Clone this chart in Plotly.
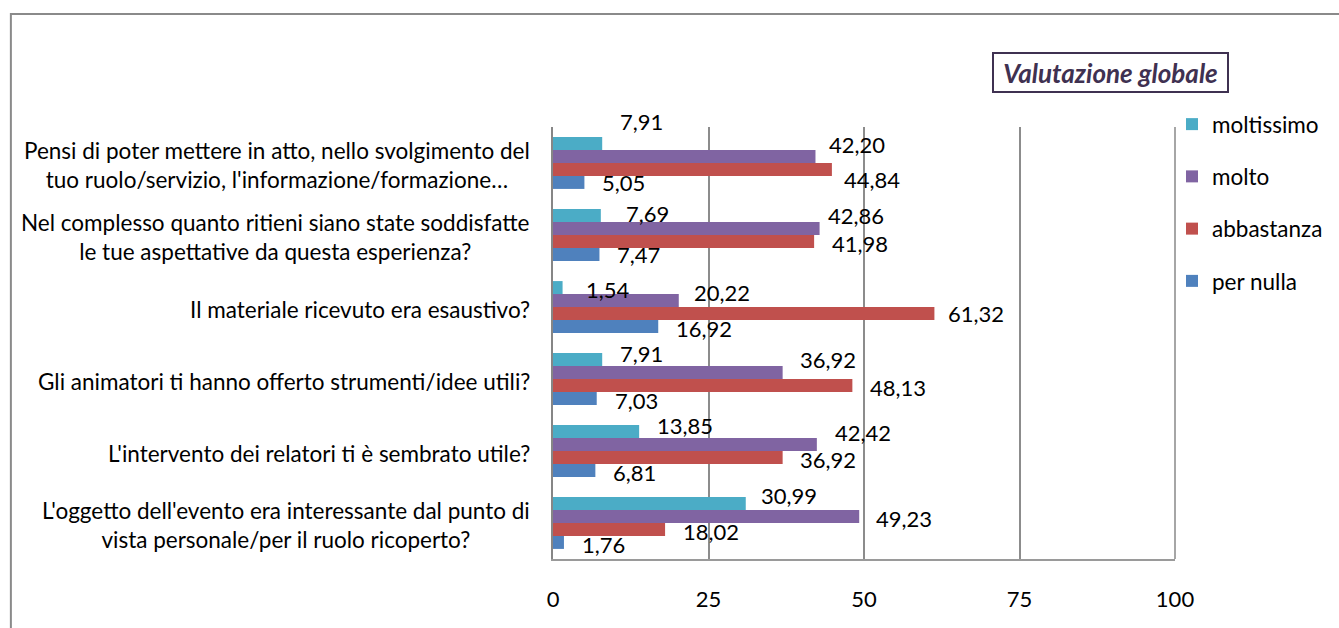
import plotly.graph_objects as go

# Questions, listed bottom to top as they appear on the category axis
categories = [
    "L'oggetto dell'evento era interessante dal punto di<br>vista personale/per il ruolo ricoperto?",
    "L'intervento dei relatori ti è sembrato utile?",
    "Gli animatori ti hanno offerto strumenti/idee utili?",
    "Il materiale ricevuto era esaustivo?",
    "Nel complesso quanto ritieni siano state soddisfatte<br>le tue aspettative da questa esperienza?",
    "Pensi di poter mettere in atto, nello svolgimento del<br>tuo ruolo/servizio, l'informazione/formazione…",
]

# Percentages per answer (same order as categories)
per_nulla = [1.76, 6.81, 7.03, 16.92, 7.47, 5.05]
abbastanza = [18.02, 36.92, 48.13, 61.32, 41.98, 44.84]
molto = [49.23, 42.42, 36.92, 20.22, 42.86, 42.20]
moltissimo = [30.99, 13.85, 7.91, 1.54, 7.69, 7.91]

series_names = ["per nulla", "abbastanza", "molto", "moltissimo"]
series_values = [per_nulla, abbastanza, molto, moltissimo]
series_colors = ["#4F81BD", "#C0504D", "#8064A2", "#4BACC6"]

# Hand-placed data label nudges: horizontal gap after the bar end, vertical shift (px)
label_gap = [
    [17, 17, 17, 17, 17, 17],
    [17, 16, 17, 13, 17, 11],
    [16, 17, 16, 14, 7, 13],
    [14, 17, 17, 22, 24, 17],
]
label_dy = [
    [-2, -2, -2, -2, 0, 0],
    [-2, -2, -2, 0, -2, -10],
    [-2, 12, 13, 8, 13, 12],
    [8, 6, 6, -2, 2, 22],
]

title_text = "Valutazione globale"
x_ticks = [0, 25, 50, 75, 100]

FONT = "Lato, Carlito, Calibri, sans-serif"
FS = 22.5
W, H = 1339, 628
L, R, T, B = 553, 1176, 127, 559  # plot area in pixels
BARGAP = 0.28

fig = go.Figure()
n = len(series_names)
for k, (name, vals, color) in enumerate(zip(series_names, series_values, series_colors)):
    fig.add_trace(go.Bar(
        x=vals, y=list(range(len(categories))), orientation="h", name=name,
        marker=dict(color=color, line=dict(width=0)), legendgroup=name,
        legendrank=n - k, hoverinfo="x+name",
    ))

# Data labels attached to each bar's value and slot
slot = (1 - BARGAP) / n
annotations = []
for k, vals in enumerate(series_values):
    off = (k - (n - 1) / 2) * slot
    for i, v in enumerate(vals):
        annotations.append(dict(
            x=v, y=i + off, xref="x", yref="y", text=f"{v:.2f}".replace(".", ","),
            showarrow=False, xanchor="left", yanchor="middle",
            xshift=label_gap[k][i], yshift=label_dy[k][i], borderpad=0,
            font=dict(family=FONT, size=22, color="#000000"),
        ))

# Category labels, centred lines right-aligned against the axis
for i, c in enumerate(categories):
    annotations.append(dict(
        x=0, y=i, xref="x", yref="y", text=c, showarrow=False,
        xanchor="right", yanchor="middle", align="center", xshift=-21, yshift=-2,
        font=dict(family=FONT, size=FS, color="#000000"),
    ))

pw, ph = R - L, B - T
def px_x(p):
    return (p - L) / pw
def px_y(p):
    return (B - p) / ph

annotations.append(dict(
    x=px_x(1111.5), y=px_y(72.5), xref="paper", yref="paper", text=f"<b><i>{title_text}</i></b>",
    showarrow=False, xanchor="center", yanchor="middle", width=233, height=37,
    bordercolor="#3F3151", borderwidth=2, borderpad=0, bgcolor="#FFFFFF",
    font=dict(family=FONT, size=26, color="#3F3151"),
))

shapes = [
    # chart frame
    dict(type="rect", xref="paper", yref="paper", x0=px_x(10), x1=px_x(1360),
         y0=px_y(660), y1=px_y(14), line=dict(color="#8A8A8A", width=2), layer="below"),
    # right edge of the plot area
    dict(type="line", xref="paper", yref="paper", x0=1, x1=1, y0=0, y1=1,
         line=dict(color="#A6A6A6", width=2), layer="above"),
]

fig.update_layout(
    width=W, height=H,
    margin=dict(l=L, r=W - R, t=T, b=H - B, pad=0),
    paper_bgcolor="#FFFFFF", plot_bgcolor="#FFFFFF",
    barmode="group", bargap=BARGAP, bargroupgap=0,
    font=dict(family=FONT, size=FS, color="#000000"),
    showlegend=True,
    legend=dict(
        x=px_x(1172), y=px_y(103), xanchor="left", yanchor="top",
        traceorder="grouped", tracegroupgap=20,
        font=dict(family=FONT, size=FS, color="#000000"),
        itemwidth=30, bgcolor="rgba(0,0,0,0)", borderwidth=0,
    ),
    xaxis=dict(
        range=[0, 100], tickvals=x_ticks, ticktext=[str(t) for t in x_ticks],
        showgrid=True, gridcolor="#8C8C8C", gridwidth=2, zeroline=False,
        showline=True, linecolor="#9A9A9A", linewidth=2, ticks="",
        ticklabelstandoff=20, tickfont=dict(family=FONT, size=22, color="#000000"),
        fixedrange=True,
    ),
    yaxis=dict(
        range=[-0.5, len(categories) - 0.5], tickvals=list(range(len(categories))),
        showticklabels=False, showgrid=False, zeroline=False,
        showline=True, linecolor="#868686", linewidth=2, ticks="", fixedrange=True,
    ),
    annotations=annotations,
    shapes=shapes,
)

fig.write_html("out.html")
